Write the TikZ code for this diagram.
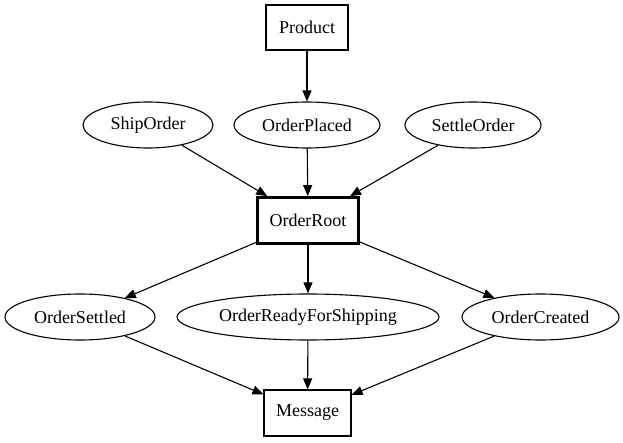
\documentclass[tikz,border=0pt]{standalone}
\usepackage{fontspec}
\setmainfont{Liberation Serif}
\usetikzlibrary{shapes.geometric,arrows.meta}
\begin{document}
\begin{tikzpicture}[x=1pt,y=-1pt,
  every node/.style={font=\fontsize{18}{20}\selectfont, inner sep=0pt, line width=1.1pt},
  boxnode/.style={draw, rectangle, minimum height=46pt},
  ellnode/.style={draw, ellipse, minimum height=46pt},
  edge/.style={line width=1.1pt, -{Triangle[length=11pt,width=9pt]}}]
\useasboundingbox (0,0) rectangle (623,443);
\node[boxnode, minimum width=82pt, minimum height=45pt] (Product) at (307,27.5) {Product};
\node[ellnode, minimum width=130pt] (ShipOrder) at (148,125) {ShipOrder};
\node[ellnode, minimum width=146pt] (OrderPlaced) at (307,125) {OrderPlaced};
\node[ellnode, minimum width=136pt] (SettleOrder) at (473,125) {SettleOrder};
\node[boxnode, minimum width=101pt, line width=2.7pt] (OrderRoot) at (308,220.5) {OrderRoot};
\node[ellnode, minimum width=150pt] (OrderSettled) at (80,317) {OrderSettled};
\node[ellnode, minimum width=262pt] (OrderReady) at (308,317) {OrderReadyForShipping};
\node[ellnode, minimum width=157pt] (OrderCreated) at (540.5,317) {OrderCreated};
\node[boxnode, minimum width=87pt] (Message) at (307.5,413) {Message};
\draw[edge] (Product) -- (OrderPlaced);
\draw[edge] (ShipOrder) -- (OrderRoot);
\draw[edge] (OrderPlaced) -- (OrderRoot);
\draw[edge] (SettleOrder) -- (OrderRoot);
\draw[edge] (OrderRoot) -- (OrderSettled);
\draw[edge] (OrderRoot) -- (OrderReady);
\draw[edge] (OrderRoot) -- (OrderCreated);
\draw[edge] (OrderSettled) -- (Message);
\draw[edge] (OrderReady) -- (Message);
\draw[edge] (OrderCreated) -- (Message);
\end{tikzpicture}
\end{document}
